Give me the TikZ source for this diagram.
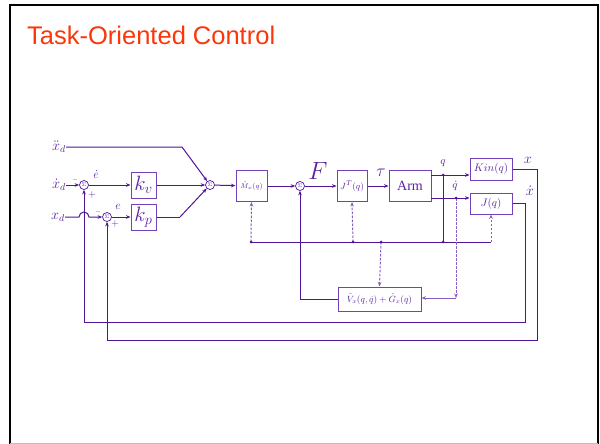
\documentclass[tikz,border=0pt]{standalone}
\usepackage{fontspec}
\setmainfont{Liberation Serif}
\newfontfamily\titlefont{Liberation Sans}
\usetikzlibrary{arrows.meta,calc}
\definecolor{linec}{RGB}{80,20,150}
\definecolor{boxc}{RGB}{115,65,185}
\definecolor{dashc}{RGB}{135,95,195}
\definecolor{textc}{RGB}{90,35,160}
\definecolor{titlec}{RGB}{250,55,10}
\begin{document}
\begin{tikzpicture}[x=1pt,y=-1pt,
  >={Stealth[length=4.5pt,width=3.6pt]},
  blk/.style={draw=boxc,line width=1pt,inner sep=0pt,text=textc},
  sumc/.style={draw=linec,circle,line width=0.7pt,minimum size=9pt,inner sep=0pt,font=\fontsize{5}{5}\selectfont,text=textc},
  sig/.style={draw=linec,line width=1pt},
  dsh/.style={draw=dashc,line width=1pt,dashed,dash pattern=on 2.5pt off 1.5pt},
  lbl/.style={text=textc,inner sep=0pt},
  dotp/.style={circle,fill=linec,inner sep=0pt,minimum size=3pt}]
\useasboundingbox (0,0) rectangle (600,444);
% slide frame
\draw[black,line width=2pt] (10,444) -- (10,5) -- (598,5) -- (598,444);
\draw[gray!50,line width=0.8pt] (10,443) -- (598,443);
\node[anchor=base west,inner sep=0pt,text=titlec,font=\titlefont\fontsize{25.5}{28}\selectfont] (title) at (27,45) {Task-Oriented Control};
% summing junctions
\node[sumc] (S1) at (84,185) {$\Sigma$};
\node[sumc] (S2) at (107,217) {$\Sigma$};
\node[sumc] (S3) at (210,185) {$\Sigma$};
\node[sumc] (S4) at (300,186) {$\Sigma$};
% blocks
\node[blk,minimum width=25pt,minimum height=26pt] (kv) at (143.5,185) {\fontsize{20}{20}\selectfont$k_v$};
\node[blk,minimum width=25pt,minimum height=26pt] (kp) at (143.5,217) {\fontsize{20}{20}\selectfont$k_p$};
\node[blk,minimum width=31pt,minimum height=31pt] (M) at (251.5,186) {\fontsize{7.5}{7.5}\selectfont$\hat M_x(q)$};
\node[blk,minimum width=30pt,minimum height=31pt] (JT) at (352,186) {\fontsize{9.5}{9.5}\selectfont$J^T(q)$};
\node[blk,minimum width=42pt,minimum height=31pt] (Arm) at (410,186) {\fontsize{14}{14}\selectfont Arm};
\node[blk,minimum width=42pt,minimum height=22pt] (Kin) at (491,169) {\fontsize{11}{11}\selectfont$Kin(q)$};
\node[blk,minimum width=42pt,minimum height=21pt] (J) at (491,203.5) {\fontsize{11}{11}\selectfont$J(q)$};
\node[blk,minimum width=83pt,minimum height=24pt] (V) at (379.5,299) {\fontsize{9}{9}\selectfont$\hat V_x(q,\dot q)+\hat G_x(q)$};
% input labels
\node[lbl,anchor=east,font=\fontsize{14}{14}\selectfont] (xdd) at (66,147) {$\ddot x_d$};
\node[lbl,anchor=east,font=\fontsize{14}{14}\selectfont] (xd1) at (66,185) {$\dot x_d$};
\node[lbl,anchor=east,font=\fontsize{14}{14}\selectfont] (xd0) at (65,217) {$x_d$};
% signal labels
\node[lbl,font=\fontsize{12}{12}\selectfont] (ed) at (96,175) {$\dot e$};
\node[lbl,font=\fontsize{12}{12}\selectfont] (ee) at (118,207) {$e$};
\node[lbl,font=\fontsize{6}{6}\selectfont] (m1) at (75,179.5) {$-$};
\node[lbl,font=\fontsize{6}{6}\selectfont] (m2) at (98,211.5) {$-$};
\node[lbl,font=\fontsize{10}{10}\selectfont] (p1) at (92,195) {$+$};
\node[lbl,font=\fontsize{10}{10}\selectfont] (p2) at (115,224) {$+$};
\node[lbl,font=\fontsize{23}{23}\selectfont] (F) at (318,171) {$F$};
\node[lbl,font=\fontsize{17}{17}\selectfont] (tau) at (381,173) {$\tau$};
\node[lbl,font=\fontsize{11}{11}\selectfont] (ql) at (443,163) {$q$};
\node[lbl,font=\fontsize{11}{11}\selectfont] (qdl) at (455,186) {$\dot q$};
\node[lbl,font=\fontsize{14}{14}\selectfont] (xl) at (528,160) {$x$};
\node[lbl,font=\fontsize{14}{14}\selectfont] (xdl) at (530,191) {$\dot x$};
% coordinates
\coordinate (a1) at (182,147);
\coordinate (a2) at (180,217);
\coordinate (j1) at (79,217);
\coordinate (qA) at (431,175);
\coordinate (qdA) at (431,198);
\coordinate (qB) at (443,175);
\coordinate (qdB) at (456,198);
\coordinate (qdC) at (456,298);
\coordinate (b0) at (251,242);
\coordinate (b1) at (353,242);
\coordinate (b2) at (381,242);
\coordinate (b3) at (443,242);
\coordinate (b4) at (491,242);
\coordinate (c1) at (537,340);
\coordinate (c2) at (525,322);
% forward paths
\draw[sig,->] (xdd.east) -- (a1) -- (S3);
\draw[sig,->] (xd1.east) -- (S1);
\draw[sig,->] (xd0.east) -- (j1) arc[start angle=180,end angle=360,radius=5] -- (S2);
\draw[sig,->] (S1) -- (kv);
\draw[sig,->] (S2) -- (kp);
\draw[sig,->] (kv.east) -- (S3);
\draw[sig] (kp.east) -- (a2);
\draw[sig,->] (a2) -- (S3);
\draw[sig,->] (S3) -- (M);
\draw[sig,->] (M) -- (S4);
\draw[sig,->] (S4) -- (JT);
\draw[sig,->] (JT) -- (Arm);
\draw[sig,->] (qA) -- (qA -| Kin.west);
\draw[sig,->] (qdA) -- (qdA -| J.west);
% feedback loops
\draw[sig,->] (Kin.east) -| (c1) -| (S2.south);
\draw[sig,->] (J.east) -| (c2) -| (S1.south);
\draw[sig,->] (V.west) -| (S4.south);
% q bus
\draw[sig] (qB) -- (b3);
\draw[sig] (b0) -- (b4);
\draw[dsh,->] (b0) -- (M.south);
\draw[dsh,->] (b1) -- (JT.south);
\draw[dsh,->] (b2) -- (V.north);
\draw[dsh,->] (b4) -- (J.south);
\draw[dsh,->] (qdB) -- (qdC);
\draw[sig,draw=dashc,->] (qdC) -- (qdC -| V.east);
% dots
\foreach \p in {b0,b1,b2,b3,qB,qdB} \node[dotp] at (\p) {};
\end{tikzpicture}
\end{document}
